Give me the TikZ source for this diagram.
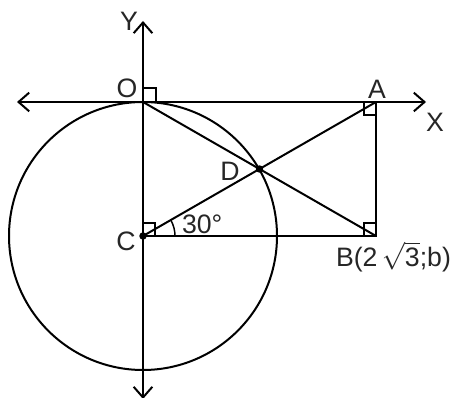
\documentclass[tikz,border=0pt]{standalone}
\usepackage{fontspec}
\setmainfont{Liberation Sans}
\usetikzlibrary{arrows.meta,calc}
\begin{document}
\begin{tikzpicture}[x=0.75pt,y=-0.75pt,line width=1.5pt,
  axis/.style={{Straight Barb[length=8pt,width=14pt]}-{Straight Barb[length=8pt,width=14pt]}},
  lbl/.style={font=\fontsize{20}{24}\selectfont,text=black!85,inner sep=0pt},
  ramark/.style={line width=1.1pt}]
\useasboundingbox (0,0) rectangle (452,398);
\coordinate (O) at (143,102);
\coordinate (A) at (376,102);
\coordinate (B) at (376,236);
\coordinate (C) at (143,236);
\coordinate (D) at ($(O)!0.5!(B)$);
\coordinate (XL) at (17,102);
\coordinate (XR) at (426,102);
\coordinate (YT) at (143,21);
\coordinate (YB) at (143,399);
\draw[axis] (XL) -- (XR);
\draw[axis] (YT) -- (YB);
\draw (C) circle (100.5pt);
\draw (A) -- (B) -- (C);
\draw (O) -- (B);
\draw (C) -- (A);
\draw[ramark] (O) rectangle ++(13,-14);
\draw[ramark] (A) rectangle ++(-12,13);
\draw[ramark] (B) rectangle ++(-12,-13);
\draw[ramark] (C) rectangle ++(12,-13);
\draw[ramark] (C) ++(24pt,0) arc[start angle=0,end angle=30,radius=24pt];
\fill (C) circle (2.8pt);
\fill (D) circle (2.8pt);
\node[lbl] (lY) at (129,21) {Y};
\node[lbl] (lO) at (127,88) {O};
\node[lbl] (lA) at (377,89) {A};
\node[lbl] (lX) at (435,122) {X};
\node[lbl] (lD) at (230,171) {D};
\node[lbl] (lC) at (126,241) {C};
\node[lbl,anchor=west] (l30) at (181,224) {30°};
\node[lbl,anchor=west] (lB) at (335,257) {B(2\,$\sqrt{\mbox{3}}$;b)};
\end{tikzpicture}
\end{document}
